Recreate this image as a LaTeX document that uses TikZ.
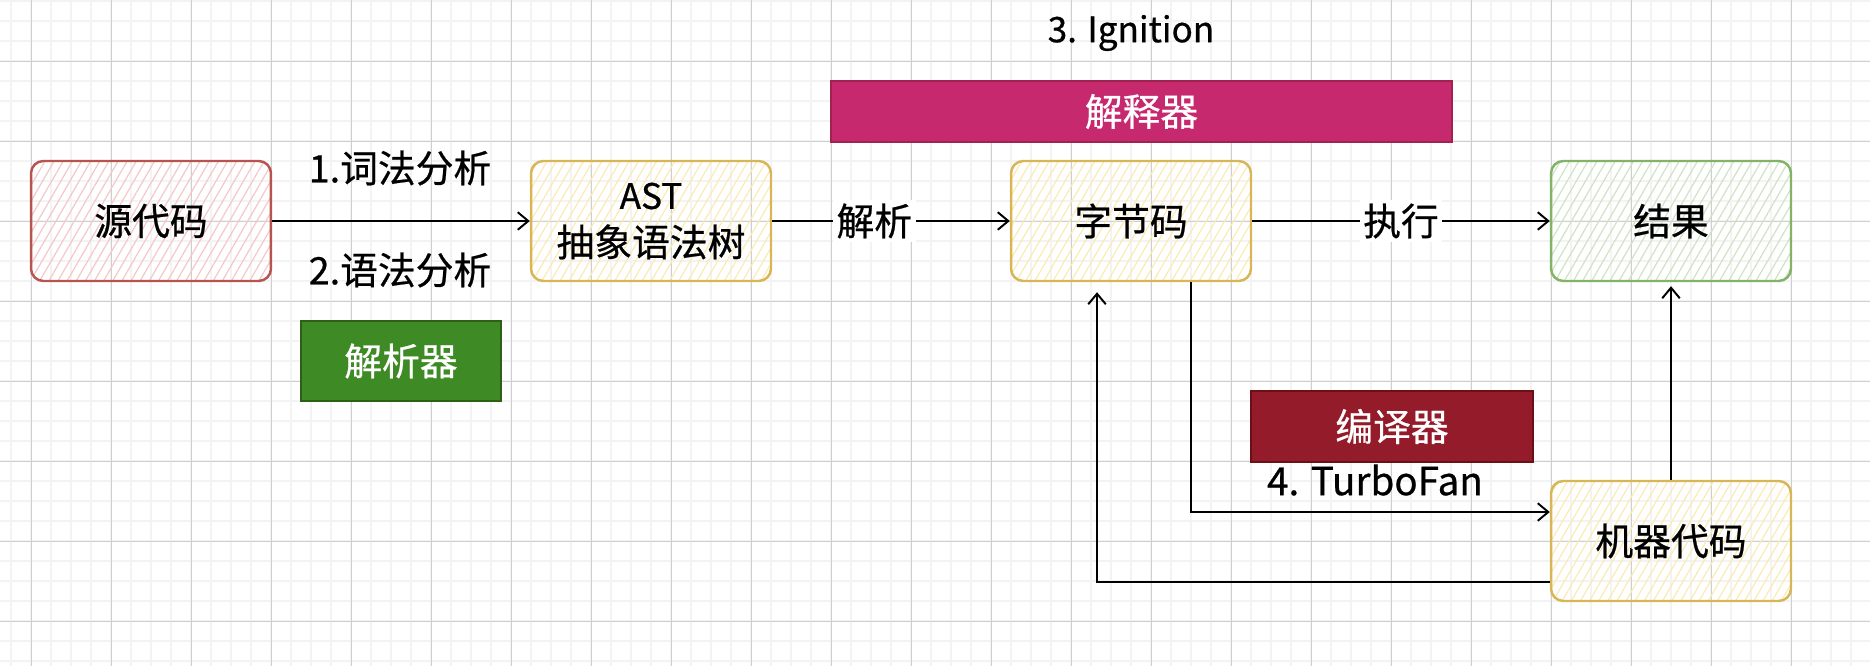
\documentclass[tikz,border=0pt]{standalone}
\usepackage{fontspec}
\setmainfont{Noto Sans CJK SC}[FakeBold=0.6]
\usetikzlibrary{arrows.meta,patterns.meta}
\definecolor{GridMinor}{HTML}{F3F3F3}
\definecolor{GridMajor}{HTML}{CFCFCF}
\definecolor{SrcRed}{HTML}{B85450}
\definecolor{SrcHatch}{HTML}{F5C8C8}
\definecolor{StageGold}{HTML}{D6B656}
\definecolor{StageHatch}{HTML}{FCEAB4}
\definecolor{ResGreen}{HTML}{82B366}
\definecolor{ResHatch}{HTML}{CDE5C3}
\definecolor{ParserGreen}{HTML}{3E8A25}
\definecolor{ParserEdge}{HTML}{2D6016}
\definecolor{InterpPink}{HTML}{C7296F}
\definecolor{InterpEdge}{HTML}{A0224F}
\definecolor{CompRed}{HTML}{941C2A}
\definecolor{CompEdge}{HTML}{6B1015}
\tikzset{big/.style={font=\fontsize{21.5}{27}\selectfont},small/.style={font=\fontsize{20}{24}\selectfont}}

\begin{document}
\begin{tikzpicture}[x=0.02cm,y=-0.02cm,
  block/.style={big,rounded corners=7pt,line width=1.4pt,align=center,
    minimum width=4.8cm,minimum height=2.4cm},
  hatch/.style={pattern={Lines[angle=60,distance=4.5pt,line width=0.7pt]},pattern color=#1},
  engine/.style={big,line width=1pt,text=white,inner sep=0pt},
  link/.style={-{Straight Barb[length=6pt,width=10pt]},line width=1.1pt,black},
  lbl/.style={big,fill=white,inner sep=2pt}]
\useasboundingbox (0,0) rectangle (1870,666);
% Grid paper
\foreach \gx in {11.3,31.3,...,1870} \draw[GridMinor,line width=1.1pt] (\gx,0)--(\gx,666);
\foreach \gy in {1.3,21.3,...,666} \draw[GridMinor,line width=1.1pt] (0,\gy)--(1870,\gy);
\foreach \gx in {31.3,111.3,...,1870} \draw[GridMajor,line width=0.6pt] (\gx,0)--(\gx,666);
\foreach \gy in {61.3,141.3,...,666} \draw[GridMajor,line width=0.6pt] (0,\gy)--(1870,\gy);
% Stages
\node[block,draw=SrcRed,hatch=SrcHatch] (src) at (151,221) {源代码};
\node[block,draw=StageGold,hatch=StageHatch] (ast) at (651,221) {{\fontsize{20}{22}\selectfont AST}\\抽象语法树};
\node[block,draw=StageGold,hatch=StageHatch] (bytecode) at (1131,221) {字节码};
\node[block,draw=ResGreen,hatch=ResHatch] (result) at (1671,221) {结果};
\node[block,draw=StageGold,hatch=StageHatch] (machine) at (1671,541) {机器代码};
% Engines and notes
\node[engine,draw=ParserEdge,fill=ParserGreen,minimum width=4cm,minimum height=1.6cm] (parser) at (401,361) {解析器};
\node[engine,draw=InterpEdge,fill=InterpPink,minimum width=12.42cm,minimum height=1.22cm] (interp) at (1141.5,111.5) {解释器};
\node[engine,draw=CompEdge,fill=CompRed,minimum width=5.64cm,minimum height=1.42cm] (compiler) at (1392,426.5) {编译器};
\node[small] (ignition) at (1131,33) {3. Ignition};
\node[small,font=\fontsize{22}{26}\selectfont] (turbofan) at (1375,480) {4. TurboFan};
\node[big] (lexing) at (400,168) {1.词法分析};
\node[big] (syntax) at (400,270) {2.语法分析};
% Connectors
\draw[link] (src)--(ast);
\draw[link] (ast)--node[lbl,pos=0.43]{解析}(bytecode);
\draw[link] (bytecode)--node[lbl]{执行}(result);
\draw[link] ([xshift=1.2cm]bytecode.south)|-([yshift=0.58cm]machine.west);
\draw[link,shorten >=0.2cm] ([yshift=-0.82cm]machine.west)-|([xshift=-0.68cm]bytecode.south);
\draw[link,shorten >=0.08cm] (machine)--(result);
\end{tikzpicture}
\end{document}
